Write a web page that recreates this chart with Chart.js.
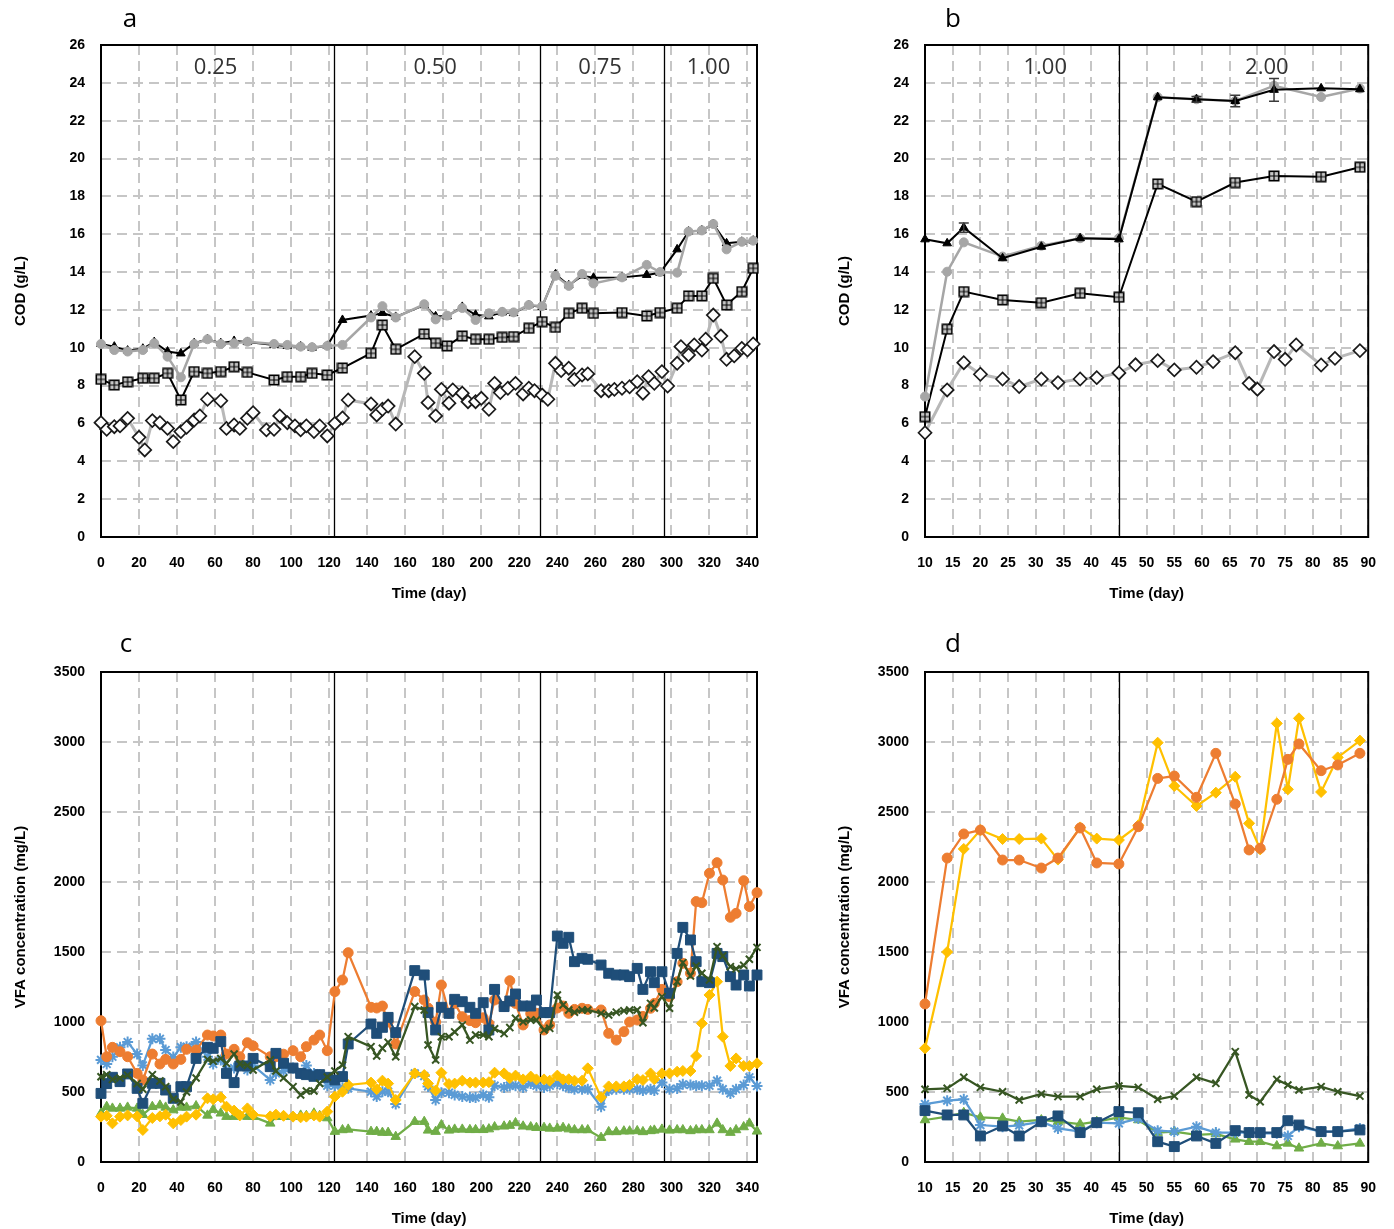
<!DOCTYPE html>
<html>
<head>
<meta charset="utf-8">
<script src="https://cdn.jsdelivr.net/npm/chart.js@4.4.1/dist/chart.umd.min.js"></script>
<style>
  html, body { margin: 0; padding: 0; background: #fff; overflow: hidden; }
  body { width: 1394px; height: 1229px; position: relative; }
  canvas { position: absolute; display: block; }
</style>
</head>
<body>
<canvas id="chartA" width="780" height="612" style="left:0;top:0"></canvas>
<canvas id="chartB" width="570" height="612" style="left:824px;top:0"></canvas>
<canvas id="chartC" width="780" height="604" style="left:0;top:625px"></canvas>
<canvas id="chartD" width="570" height="604" style="left:824px;top:625px"></canvas>
<script>
// ---------- axis ticks ----------
const longRunTicks = [0, 20, 40, 60, 80, 100, 120, 140, 160, 180, 200, 220, 240, 260, 280, 300, 320, 340];
const shortRunTicks = [10, 15, 20, 25, 30, 35, 40, 45, 50, 55, 60, 65, 70, 75, 80, 85, 90];

// ---------- loading phases ----------
const longRunPhaseStarts = [122.5, 231, 296];
const longRunPhaseNames = ['0.25', '0.50', '0.75', '1.00'];
const shortRunPhaseStarts = [45];
const shortRunPhaseNames = ['1.00', '2.00'];

// ---------- (a) COD, long run ----------
const codDaysA = [0, 7, 14, 22, 28, 35, 42, 49, 56, 63, 70, 77, 91, 98, 105, 111, 119, 127, 142, 148,
  155, 170, 176, 182, 190, 197, 204, 211, 217, 225, 232, 239, 246, 253, 259, 274, 287, 294, 303, 309,
  316, 322, 329, 337, 343];
const totalCodA = [10.2, 10.06, 9.85, 9.95, 10.3, 9.8, 9.7, 10.24, 10.45, 10.24, 10.36, 10.3, 10.15, 10.1, 10.07, 10.0, 10.1, 11.47, 11.7, 11.84,
  11.63, 12.25, 11.66, 11.66, 12.16, 11.74, 11.66, 11.87, 11.83, 12.25, 12.16, 13.88, 13.3, 13.8, 13.7, 13.72, 13.85, 13.96, 15.2, 16.14,
  16.2, 16.54, 15.52, 15.6, 15.66];
const grayCodA = [10.2, 9.88, 9.8, 9.88, 10.24, 9.53, 8.44, 10.2, 10.45, 10.2, 10.24, 10.32, 10.2, 10.15, 10.06, 10.03, 10.1, 10.15, 11.6, 12.2,
  11.6, 12.3, 11.5, 11.7, 12.1, 11.47, 11.82, 11.9, 11.87, 12.26, 12.2, 13.8, 13.27, 13.9, 13.4, 13.72, 14.38, 14.0, 13.97, 16.14,
  16.2, 16.54, 15.2, 15.6, 15.66];
const boxCodA = [8.33, 8.03, 8.2, 8.39, 8.39, 8.65, 7.24, 8.74, 8.65, 8.74, 9.0, 8.7, 8.3, 8.47, 8.47, 8.65, 8.56, 8.93, 9.71, 11.2,
  9.92, 10.73, 10.24, 10.1, 10.62, 10.45, 10.45, 10.55, 10.59, 11.03, 11.38, 11.08, 11.82, 12.09, 11.82, 11.86, 11.68, 11.86, 12.09, 12.74,
  12.74, 13.67, 12.26, 12.97, 14.2];
const diamondDaysA = [0, 3, 7, 10, 14, 20, 23, 27, 31, 35, 38, 42, 45, 49, 52, 56, 63, 66, 70, 73,
  77, 80, 87, 91, 94, 98, 102, 105, 108, 112, 115, 119, 123, 127, 130, 142, 145, 148, 151, 155,
  165, 170, 172, 176, 179, 183, 185, 190, 193, 197, 200, 204, 207, 210, 214, 218, 222, 225, 228, 232,
  235, 239, 242, 246, 249, 253, 256, 263, 267, 270, 274, 278, 282, 285, 288, 291, 295, 298, 303, 305,
  309, 312, 316, 318, 322, 326, 329, 333, 337, 340, 343];
const diamondCodA = [6.04, 5.69, 5.83, 5.87, 6.27, 5.27, 4.6, 6.15, 6.04, 5.74, 5.04, 5.57, 5.8, 6.18, 6.4, 7.28, 7.2, 5.74, 5.92, 5.74,
  6.27, 6.57, 5.66, 5.69, 6.4, 6.04, 5.87, 5.66, 5.87, 5.57, 5.87, 5.34, 6.0, 6.29, 7.24, 7.03, 6.45, 6.75, 6.92, 5.97,
  9.53, 8.65, 7.1, 6.4, 7.8, 7.07, 7.77, 7.6, 7.15, 7.15, 7.33, 6.75, 8.12, 7.63, 7.86, 8.12, 7.56, 7.86, 7.73, 7.5,
  7.28, 9.18, 8.8, 8.92, 8.33, 8.56, 8.62, 7.73, 7.73, 7.8, 7.86, 7.94, 8.21, 7.6, 8.47, 8.12, 8.74, 7.98, 9.18, 10.06,
  9.62, 10.15, 9.88, 10.45, 11.73, 10.62, 9.39, 9.57, 9.97, 9.88, 10.2];

// ---------- (b) COD, short run ----------
const codDaysB = [10, 14, 17, 24, 31, 38, 45, 52, 59, 66, 73, 81.5, 88.5];
const totalCodB = [15.73, 15.52, 16.35, 14.73, 15.34, 15.79, 15.73, 23.24, 23.13, 23.04, 23.63, 23.71, 23.66];
const totalCodErrB = [0, 0, 0.25, 0, 0, 0, 0, 0, 0.15, 0.3, 0.6, 0, 0];
const grayCodB = [7.42, 14.02, 15.57, 14.82, 15.39, 15.79, 15.79, 23.24, 23.13, 23.04, 23.85, 23.25, 23.7];
const boxCodB = [6.36, 10.98, 12.97, 12.53, 12.38, 12.88, 12.67, 18.66, 17.72, 18.73, 19.08, 19.04, 19.54];
const diamondDaysB = [10, 14, 17, 20, 24, 27, 31, 34, 38, 41, 45, 48, 52, 55, 59, 62, 66, 68.5, 70, 73, 75, 77, 81.5, 84, 88.5];
const diamondCodB = [5.51, 7.77, 9.21, 8.6, 8.35, 7.95, 8.35, 8.16, 8.35, 8.42, 8.67, 9.1, 9.32, 8.83, 8.97, 9.27, 9.74, 8.12, 7.81, 9.8, 9.39, 10.15, 9.09, 9.44, 9.85];

// ---------- (c) VFA, long run ----------
const vfaDaysC = [0, 3, 6, 10, 14, 19, 22, 27, 31, 34, 38, 42, 45, 50, 56, 59, 63, 66, 70, 73,
  77, 80, 89, 92, 96, 101, 105, 108, 112, 115, 119, 123, 127, 130, 142, 145, 148, 151, 155, 165,
  170, 172, 176, 179, 183, 186, 190, 194, 197, 201, 204, 207, 212, 215, 218, 222, 226, 229, 233, 236,
  240, 243, 246, 249, 253, 256, 263, 267, 271, 275, 278, 282, 285, 289, 291, 295, 299, 303, 306, 310,
  313, 316, 320, 324, 327, 331, 334, 338, 341, 345];
const orangeVfaC = [1009, 752, 819, 788, 752, 633, 586, 771, 700, 733, 700, 733, 805, 800, 907, 900, 907, 771, 805, 752,
  852, 829, 752, 752, 770, 795, 752, 824, 871, 907, 795, 1217, 1300, 1495, 1105, 1100, 1114, 1000, 843, 1217,
  1157, 1100, 1000, 1264, 1062, 1133, 1038, 1010, 995, 1030, 988, 1157, 1110, 1295, 1133, 979, 1060, 1062, 943, 979,
  1100, 1114, 1062, 1090, 1098, 1090, 1086, 919, 871, 931, 1000, 1014, 1040, 1098, 1133, 1233, 1181, 1288, 1419, 1348,
  1860, 1852, 2062, 2138, 2014, 1748, 1776, 2009, 1824, 1924];
const navyVfaC = [490, 560, 605, 574, 629, 526, 419, 562, 562, 514, 455, 538, 538, 740, 819, 812, 860, 633, 567, 686,
  686, 740, 681, 776, 705, 671, 633, 624, 612, 624, 605, 586, 610, 843, 986, 919, 962, 1033, 924, 1367,
  1336, 1067, 943, 1105, 1062, 1162, 1145, 1105, 1062, 1138, 943, 1233, 1110, 1150, 1200, 1114, 1114, 1157, 1067, 1067,
  1614, 1562, 1605, 1431, 1455, 1448, 1407, 1348, 1336, 1336, 1324, 1383, 1233, 1359, 1281, 1359, 1205, 1490, 1676, 1586,
  1431, 1288, 1281, 1490, 1467, 1324, 1264, 1336, 1257, 1336];
const greenVfaC = [609, 624, 590, 600, 620, 560, 520, 624, 579, 538, 448, 429, 500, 600, 733, 720, 740, 705, 771, 700,
  690, 657, 729, 650, 600, 538, 479, 507, 507, 561, 607, 650, 693, 895, 824, 757, 812, 855, 752, 1110,
  1086, 836, 729, 895, 895, 929, 979, 871, 907, 907, 895, 952, 917, 960, 1026, 1002, 1014, 1014, 943, 955,
  1193, 1122, 1086, 1070, 1086, 1086, 1062, 1050, 1070, 1080, 1086, 1086, 995, 1133, 1100, 1181, 1098, 1288, 1424, 1329,
  1400, 1348, 1300, 1538, 1472, 1395, 1380, 1405, 1448, 1533];
const yellowVfaC = [324, 330, 276, 324, 333, 326, 229, 314, 326, 338, 276, 300, 324, 338, 455, 448, 462, 395, 367, 333,
  383, 338, 326, 338, 330, 324, 319, 324, 333, 324, 360, 467, 502, 550, 567, 520, 581, 560, 443, 633,
  621, 560, 510, 638, 557, 560, 581, 567, 567, 567, 570, 638, 633, 600, 617, 590, 610, 590, 590, 581,
  617, 590, 591, 581, 581, 669, 462, 540, 540, 540, 550, 591, 585, 633, 591, 633, 633, 645, 650, 650,
  757, 990, 1193, 1288, 895, 686, 740, 686, 686, 705];
const skyVfaC = [729, 700, 752, 819, 857, 771, 690, 880, 880, 800, 750, 820, 824, 857, 752, 700, 729, 657, 671, 690,
  657, 690, 586, 633, 650, 671, 633, 690, 633, 624, 545, 545, 530, 526, 502, 467, 502, 502, 414, 633,
  614, 540, 443, 495, 495, 479, 467, 460, 460, 479, 462, 545, 533, 545, 545, 533, 560, 545, 533, 545,
  560, 545, 530, 520, 520, 520, 395, 510, 520, 520, 520, 520, 510, 520, 510, 567, 520, 525, 555, 550,
  545, 545, 545, 581, 520, 490, 520, 550, 605, 543];
const limeVfaC = [348, 395, 383, 383, 390, 383, 338, 395, 405, 390, 371, 390, 390, 400, 333, 374, 348, 324, 324, 333,
  324, 324, 276, 324, 324, 324, 333, 330, 348, 330, 314, 217, 229, 233, 217, 217, 210, 210, 181, 288,
  288, 226, 217, 264, 226, 233, 233, 230, 230, 230, 235, 250, 255, 260, 279, 255, 250, 245, 245, 240,
  240, 245, 235, 229, 229, 229, 174, 215, 215, 220, 220, 222, 215, 222, 226, 233, 226, 229, 229, 222,
  229, 229, 229, 276, 229, 210, 229, 250, 276, 219];

// ---------- (d) VFA, short run ----------
const vfaDaysD = [10, 14, 17, 20, 24, 27, 31, 34, 38, 41, 45, 48.5, 52, 55, 59, 62.5, 66, 68.5, 70.5, 73.5, 75.5, 77.5, 81.5, 84.5, 88.5];
const orangeVfaD = [1129, 2171, 2343, 2371, 2157, 2157, 2100, 2171, 2386, 2136, 2129, 2395, 2740, 2757, 2605, 2919, 2557, 2229, 2241, 2591, 2876, 2986, 2795, 2836, 2919];
const yellowVfaD = [812, 1500, 2236, 2371, 2307, 2307, 2310, 2160, 2390, 2310, 2300, 2405, 2995, 2686, 2543, 2638, 2752, 2419, 2233, 3133, 2662, 3169, 2643, 2890, 3010];
const greenVfaD = [519, 526, 605, 533, 502, 443, 486, 467, 467, 519, 543, 533, 448, 471, 605, 562, 788, 479, 431, 590, 550, 514, 538, 502, 471];
const navyVfaD = [367, 336, 336, 186, 257, 186, 288, 329, 210, 281, 360, 352, 145, 110, 186, 133, 224, 210, 210, 210, 295, 264, 217, 217, 229];
const skyVfaD = [414, 438, 448, 264, 252, 262, 288, 240, 217, 281, 276, 310, 224, 217, 252, 210, 210, 210, 205, 205, 186, 252, 217, 217, 240];
const limeVfaD = [300, 324, 352, 319, 312, 288, 300, 288, 271, 288, 319, 300, 210, 217, 193, 200, 162, 145, 145, 114, 133, 98, 133, 114, 133];

// ---------- helpers ----------
const pts = (xs, ys) => xs.map((x, i) => ({ x, y: ys[i] }));

// square marker with a plus inside
function boxPlusMarker(size) {
  const c = document.createElement('canvas');
  c.width = c.height = size;
  const g = c.getContext('2d');
  g.fillStyle = '#c8c8c8';
  g.fillRect(1, 1, size - 2, size - 2);
  g.strokeStyle = '#000';
  g.lineWidth = 1.6;
  g.strokeRect(1.3, 1.3, size - 2.6, size - 2.6);
  g.lineWidth = 1.2;
  g.beginPath();
  g.moveTo(size / 2, 2); g.lineTo(size / 2, size - 2);
  g.moveTo(2, size / 2); g.lineTo(size - 2, size / 2);
  g.stroke();
  return c;
}
const boxPlus = boxPlusMarker(12);

const FONT = '"Liberation Sans", Arial, sans-serif';

// frame, phase separators, phase names, panel letter, error bars
const decor = {
  id: 'decor',
  beforeDatasetsDraw(chart, args, o) {
    const { ctx, chartArea: a, scales: { x } } = chart;
    ctx.save();
    ctx.strokeStyle = '#000';
    ctx.lineWidth = 1.3;
    (o.bounds || []).forEach(d => {
      const px = Math.round(x.getPixelForValue(d)) + 0.5;
      ctx.beginPath(); ctx.moveTo(px, a.top); ctx.lineTo(px, a.bottom); ctx.stroke();
    });
    ctx.lineWidth = 2;
    ctx.strokeRect(a.left, a.top, a.right - a.left, a.bottom - a.top);
    ctx.restore();
  },
  afterDatasetsDraw(chart, args, o) {
    if (!o.errors) return;
    const { ctx, scales: { y } } = chart;
    const meta = chart.getDatasetMeta(o.errors.dataset);
    const ds = chart.data.datasets[o.errors.dataset];
    ctx.save();
    ctx.strokeStyle = '#3a3a3a';
    ctx.lineWidth = 1.5;
    meta.data.forEach((pt, i) => {
      const e = o.errors.values[i];
      if (!e) return;
      const v = ds.data[i].y;
      const y1 = y.getPixelForValue(v + e), y2 = y.getPixelForValue(v - e);
      ctx.beginPath();
      ctx.moveTo(pt.x, y1); ctx.lineTo(pt.x, y2);
      ctx.moveTo(pt.x - 5, y1); ctx.lineTo(pt.x + 5, y1);
      ctx.moveTo(pt.x - 5, y2); ctx.lineTo(pt.x + 5, y2);
      ctx.stroke();
    });
    ctx.restore();
  },
  afterDraw(chart, args, o) {
    const { ctx, chartArea: a, scales: { x } } = chart;
    ctx.save();
    ctx.fillStyle = '#000';
    ctx.textAlign = 'center';
    ctx.textBaseline = 'middle';
    ctx.font = '26px "Open Sans", sans-serif';
    ctx.fillText(o.letter, a.left + o.letterDx, a.top + o.letterDy);
    if (o.names) {
      const edges = [x.min, ...o.bounds, x.max];
      ctx.font = '22px "Open Sans", sans-serif';
      ctx.fillStyle = '#333';
      o.names.forEach((t, i) => {
        const mid = (edges[i] + edges[i + 1]) / 2 + (o.nameShift || 0);
        ctx.fillText(t, x.getPixelForValue(mid), a.top + 23);
      });
    }
    ctx.restore();
  }
};

function xAxis(min, max, tickList, height, titlePad) {
  return {
    type: 'linear', min, max,
    afterBuildTicks: s => { s.ticks = tickList.map(v => ({ value: v })); },
    afterFit: s => { s.height = height; },
    grid: { color: '#C6C6C6', lineWidth: 2, drawTicks: false },
    border: { display: false, dash: [10, 6] },
    ticks: { autoSkip: false, maxRotation: 0, padding: 18, color: '#000', font: { family: FONT, size: 14, weight: 'bold' } },
    title: { display: true, text: 'Time (day)', color: '#000', font: { family: FONT, size: 15, weight: 'bold' }, padding: { top: 0, bottom: titlePad } }
  };
}
function yAxis(max, step, label) {
  return {
    type: 'linear', min: 0, max,
    afterFit: s => { s.width = 101; },
    grid: { color: '#C6C6C6', lineWidth: 2, drawTicks: false },
    border: { display: false, dash: [10, 6] },
    ticks: { stepSize: step, padding: 16, color: '#000', font: { family: FONT, size: 14, weight: 'bold' },
      callback: v => String(v) },
    title: { display: true, text: label, color: '#000', font: { family: FONT, size: 15, weight: 'bold' }, padding: { top: 12, bottom: 0 } }
  };
}

function codDatasets(days, tot, gray, box, dDays, dia, triOnTop) {
  return [
    { data: pts(days, tot), order: triOnTop ? 0 : 1, borderColor: '#000', borderWidth: 2,
      pointStyle: 'triangle', pointRadius: 5, pointBackgroundColor: '#000', pointBorderColor: '#000', pointBorderWidth: 1 },
    { data: pts(days, gray), order: triOnTop ? 1 : 0, borderColor: '#A6A6A6', borderWidth: 2.5,
      pointStyle: 'circle', pointRadius: 4.5, pointBackgroundColor: '#A6A6A6', pointBorderColor: '#A6A6A6', pointBorderWidth: 1 },
    { data: pts(days, box), order: 2, borderColor: '#000', borderWidth: 2, pointStyle: boxPlus, pointRadius: 6 },
    { data: pts(dDays, dia), order: 3, borderColor: '#B8B8B8', borderWidth: 3,
      pointStyle: 'rectRot', pointRadius: 6.5, pointBackgroundColor: '#fff', pointBorderColor: '#1a1a1a', pointBorderWidth: 1.7 }
  ];
}

function vfaDatasets(days, green, navy, orange, yellow, sky, lime) {
  const common = { borderWidth: 2.25 };
  return [
    { ...common, data: pts(days, green), borderColor: '#375623', pointStyle: 'crossRot', pointRadius: 5,
      pointBorderColor: '#375623', pointBackgroundColor: '#375623', pointBorderWidth: 2 },
    { ...common, data: pts(days, navy), borderColor: '#1F4E79', pointStyle: 'rect', pointRadius: 7,
      pointBorderColor: '#1F4E79', pointBackgroundColor: '#1F4E79', pointBorderWidth: 1 },
    { ...common, data: pts(days, orange), borderColor: '#ED7D31', pointStyle: 'circle', pointRadius: 5,
      pointBorderColor: '#ED7D31', pointBackgroundColor: '#ED7D31', pointBorderWidth: 1 },
    { ...common, data: pts(days, yellow), borderColor: '#FFC000', pointStyle: 'rectRot', pointRadius: 5.5,
      pointBorderColor: '#FFC000', pointBackgroundColor: '#FFC000', pointBorderWidth: 1 },
    { ...common, data: pts(days, sky), borderColor: '#5B9BD5', pointStyle: 'star', pointRadius: 5.5,
      pointBorderColor: '#5B9BD5', pointBackgroundColor: '#5B9BD5', pointBorderWidth: 2 },
    { ...common, data: pts(days, lime), borderColor: '#70AD47', pointStyle: 'triangle', pointRadius: 5.5,
      pointBorderColor: '#70AD47', pointBackgroundColor: '#70AD47', pointBorderWidth: 1 }
  ];
}

function baseOptions(pad, x, y, decorOpts) {
  return {
    responsive: false, animation: false, devicePixelRatio: 1,
    layout: { autoPadding: false, padding: pad },
    elements: { line: { tension: 0, fill: false } },
    datasets: { line: { clip: false } },
    plugins: { legend: { display: false }, tooltip: { enabled: false }, decor: decorOpts },
    scales: { x, y }
  };
}

Chart.register(decor);

new Chart(document.getElementById('chartA'), {
  type: 'line',
  data: { datasets: codDatasets(codDaysA, totalCodA, grayCodA, boxCodA, diamondDaysA, diamondCodA, false) },
  options: baseOptions({ left: 0, top: 45, right: 23, bottom: 0 },
    xAxis(0, 345, longRunTicks, 75, 9), yAxis(26, 2, 'COD (g/L)'),
    { letter: 'a', letterDx: 29, letterDy: -25, bounds: longRunPhaseStarts, names: longRunPhaseNames, nameShift: -1 })
});

new Chart(document.getElementById('chartB'), {
  type: 'line',
  data: { datasets: codDatasets(codDaysB, totalCodB, grayCodB, boxCodB, diamondDaysB, diamondCodB, true) },
  options: baseOptions({ left: 0, top: 45, right: 13, bottom: 0 },
    xAxis(10, 90, shortRunTicks, 75, 9), yAxis(26, 2, 'COD (g/L)'),
    { letter: 'b', letterDx: 28, letterDy: -25, bounds: shortRunPhaseStarts, names: shortRunPhaseNames, nameShift: 4.2,
      errors: { dataset: 0, values: totalCodErrB } })
});

new Chart(document.getElementById('chartC'), {
  type: 'line',
  data: { datasets: vfaDatasets(vfaDaysC, greenVfaC, navyVfaC, orangeVfaC, yellowVfaC, skyVfaC, limeVfaC) },
  options: baseOptions({ left: 0, top: 47, right: 23, bottom: 0 },
    xAxis(0, 345, longRunTicks, 67, 1), yAxis(3500, 500, 'VFA concentration (mg/L)'),
    { letter: 'c', letterDx: 25, letterDy: -27, bounds: longRunPhaseStarts })
});

new Chart(document.getElementById('chartD'), {
  type: 'line',
  data: { datasets: vfaDatasets(vfaDaysD, greenVfaD, navyVfaD, orangeVfaD, yellowVfaD, skyVfaD, limeVfaD) },
  options: baseOptions({ left: 0, top: 47, right: 13, bottom: 0 },
    xAxis(10, 90, shortRunTicks, 67, 1), yAxis(3500, 500, 'VFA concentration (mg/L)'),
    { letter: 'd', letterDx: 28, letterDy: -27, bounds: shortRunPhaseStarts })
});
</script>
</body>
</html>
